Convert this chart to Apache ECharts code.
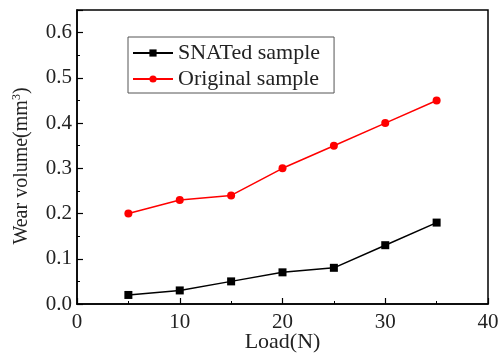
<!DOCTYPE html>
<html><head><meta charset="utf-8">
<script src="https://cdn.jsdelivr.net/npm/echarts@6/dist/echarts.min.js"></script>
<style>html,body{margin:0;padding:0;background:#fff}#c{width:499px;height:353px}</style>
</head><body><div id="c"></div>
<script>
const loads = [5, 10, 15, 20, 25, 30, 35];
const snated = [0.02, 0.03, 0.05, 0.07, 0.08, 0.13, 0.18];
const original = [0.20, 0.23, 0.24, 0.30, 0.35, 0.40, 0.45];
const seriesNames = ['SNATed sample', 'Original sample'];

const chart = echarts.init(document.getElementById('c'));
const font = 'Liberation Serif';
const axisCommon = {
  axisLine: { show: true, lineStyle: { color: '#000', width: 1.5 } },
  axisTick: { show: true, inside: true, length: 6, lineStyle: { color: '#000', width: 1.2 } },
  minorTick: { show: true, splitNumber: 2, length: 3, lineStyle: { color: '#000', width: 1 } },
  splitLine: { show: false },
  axisLabel: { color: '#222', fontFamily: font, fontSize: 21 }
};
chart.setOption({
  animation: false,
  grid: { left: 77, right: 11, top: 10, bottom: 49, outerBoundsMode: 'none', show: true, borderColor: '#000', borderWidth: 1.5 },
  legend: {
    left: 128, top: 37, orient: 'vertical',
    data: seriesNames,
    borderColor: '#555', borderWidth: 1, padding: [5, 14, 3, 4],
    itemWidth: 40, itemHeight: 9, itemGap: 4,
    textStyle: { fontFamily: font, fontSize: 22, color: '#222' }
  },
  xAxis: Object.assign({}, axisCommon, {
    type: 'value', min: 0, max: 40, interval: 10,
    name: 'Load(N)', nameLocation: 'middle', nameGap: 27, nameMoveOverlap: false,
    nameTextStyle: { fontFamily: font, fontSize: 22, color: '#222' },
    axisLabel: Object.assign({}, axisCommon.axisLabel, { margin: 8 })
  }),
  yAxis: Object.assign({}, axisCommon, {
    type: 'value', min: 0, max: 0.65, interval: 0.1,
    name: '{a|Wear volume(mm}{s|3}{a|)}', nameLocation: 'middle', nameGap: 44, nameMoveOverlap: false,
    nameTextStyle: { padding: [0, 18, 0, 0], rich: { a: { fontFamily: font, fontSize: 20, color: '#222' }, s: { fontFamily: font, fontSize: 12, color: '#222', verticalAlign: 'top', padding: [0, 0, 10, 0] } } },
    axisLabel: Object.assign({}, axisCommon.axisLabel, { margin: 5, showMaxLabel: false, formatter: v => v.toFixed(1) })
  }),
  series: [
    { name: seriesNames[0], type: 'line', data: loads.map((x, i) => [x, snated[i]]),
      symbol: 'rect', symbolSize: 8, itemStyle: { color: '#000' }, lineStyle: { color: '#000', width: 1.5 } },
    { name: seriesNames[1], type: 'line', data: loads.map((x, i) => [x, original[i]]),
      symbol: 'circle', symbolSize: 8, itemStyle: { color: '#f00' }, lineStyle: { color: '#f00', width: 1.5 } }
  ]
});
</script></body></html>
